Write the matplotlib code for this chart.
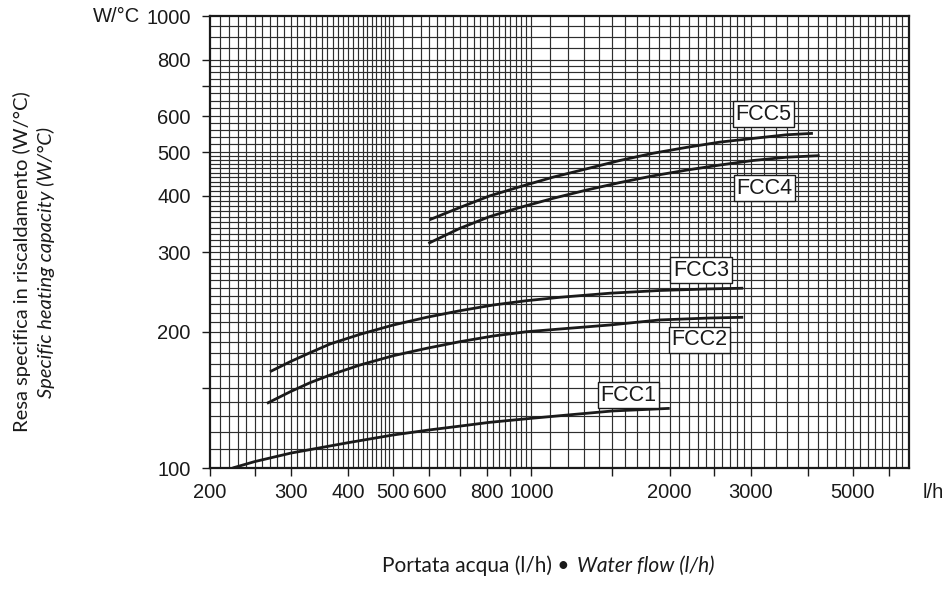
import numpy as np
import matplotlib
matplotlib.use("Agg")
import matplotlib.pyplot as plt
from matplotlib.ticker import FixedLocator, FixedFormatter, NullLocator

plt.rcParams['font.family'] = ['Liberation Sans', 'DejaVu Sans']

# curves: water flow (l/h) -> specific capacity (W/°C)
fcc1_x = [224, 250, 300, 400, 500, 600, 700, 812, 1000, 1200, 1500, 2000]
fcc1_y = [100, 103.3, 107.9, 113.8, 118.3, 121.4, 123.8, 126.2, 128.8, 131, 133.7, 135.5]

fcc2_x = [266, 299, 330, 365, 424, 501, 592, 699, 826, 976, 1154, 1482, 1902, 2438, 2890]
fcc2_y = [139, 147.5, 154.4, 160.6, 169, 177.2, 184, 190.3, 195.9, 200.2, 203, 207.2, 212.6, 214.7, 215.5]

fcc3_x = [270, 299, 330, 365, 424, 501, 592, 699, 826, 976, 1154, 1482, 1902, 2438, 2890]
fcc3_y = [163.3, 171.9, 179.9, 188.1, 197.6, 207.2, 215.5, 222.8, 229.4, 234.5, 238.6, 243.6, 247, 249, 249.9]

fcc4_x = [597, 699, 812, 944, 1115, 1318, 1557, 1840, 2174, 2570, 3036, 3588, 4238]
fcc4_y = [314, 339, 360, 377, 395, 412, 428, 443, 456, 468, 479, 487, 491]

fcc5_x = [600, 699, 812, 944, 1115, 1318, 1557, 1840, 2174, 2570, 3036, 3588, 4097]
fcc5_y = [354, 377, 400, 419, 440, 459, 479, 497, 512, 526, 536, 546, 550]

curve_names = ['FCC1', 'FCC2', 'FCC3', 'FCC4', 'FCC5']
label_x = [1624, 2320, 2340, 3210, 3200]
label_y = [145, 192, 274, 416, 606]

x_ticks = [200, 250, 300, 400, 500, 600, 700, 800, 900, 1000, 1500, 2000, 2500, 3000, 4000, 5000, 6000]
x_labeled = [200, 300, 400, 500, 600, 800, 1000, 2000, 3000, 5000]
y_ticks = [100, 150, 200, 300, 400, 500, 600, 700, 800, 1000]
y_labeled = [100, 200, 300, 400, 500, 600, 800, 1000]

xmin, xmax = 200, 6630
ymin, ymax = 100, 1000

# grid spacing of the printed log paper
x_grid = np.concatenate([np.arange(210, 500, 10), np.arange(500, 1000, 25),
                         np.arange(1000, 3000, 100), np.arange(3000, 6600, 200)])
y_grid = np.concatenate([np.arange(110, 500, 10), np.arange(500, 600, 20),
                         np.arange(600, 800, 25), np.arange(800, 1000, 50)])

fig = plt.figure(figsize=(9.49, 6.06), dpi=100)
ax = fig.add_axes([210 / 949, 1 - 468 / 606, (909 - 210) / 949, (468 - 16) / 606])
ax.set_xscale('log')
ax.set_yscale('log')
ax.set_xlim(xmin, xmax)
ax.set_ylim(ymin, ymax)

for gx in x_grid:
    ax.axvline(gx, color='#2e2e2e', lw=0.85, zorder=1)
for gy in y_grid:
    ax.axhline(gy, color='#2e2e2e', lw=0.85, zorder=1)

curves = [(fcc1_x, fcc1_y), (fcc2_x, fcc2_y), (fcc3_x, fcc3_y), (fcc4_x, fcc4_y), (fcc5_x, fcc5_y)]
for cx, cy in curves:
    ax.plot(cx, cy, color='#1a1a1a', lw=2.0, solid_capstyle='butt', solid_joinstyle='round', zorder=3)

for name, lx, ly in zip(curve_names, label_x, label_y):
    ax.text(lx, ly, name, ha='center', va='center', fontsize=15.5, color='#1a1a1a', zorder=4,
            bbox=dict(boxstyle='square,pad=0.12', fc='white', ec='#1a1a1a', lw=1.0))

ax.xaxis.set_major_locator(FixedLocator(x_ticks))
ax.xaxis.set_major_formatter(FixedFormatter([str(t) if t in x_labeled else '' for t in x_ticks]))
ax.xaxis.set_minor_locator(NullLocator())
ax.yaxis.set_major_locator(FixedLocator(y_ticks))
ax.yaxis.set_major_formatter(FixedFormatter([str(t) if t in y_labeled else '' for t in y_ticks]))
ax.yaxis.set_minor_locator(NullLocator())
ax.tick_params(axis='x', direction='out', length=6, width=1.0, pad=5, labelsize=14.5, colors='#1a1a1a')
ax.tick_params(axis='y', direction='out', length=6, width=1.0, pad=8, labelsize=14.5, colors='#1a1a1a')

for sp in ax.spines.values():
    sp.set_linewidth(1.6)
    sp.set_color('#1a1a1a')

fig.text(117 / 949, 1 - 16 / 606, 'W/°C', ha='center', va='center', fontsize=14.5, color='#1a1a1a')
fig.text(933 / 949, 1 - 492 / 606, 'l/h', ha='center', va='center', fontsize=14.5, color='#1a1a1a')

fig.text(22 / 949, 1 - 262 / 606, 'Resa specifica in riscaldamento (W/°C)', rotation=90,
         ha='center', va='center', fontsize=14.5, family='Lato', color='#1a1a1a')
fig.text(46 / 949, 1 - 262 / 606, 'Specific heating capacity (W/°C)', rotation=90,
         ha='center', va='center', fontsize=14.5, family='Lato', style='italic', color='#1a1a1a')

fig.text(569 / 949, 1 - 566 / 606, 'Portata acqua (l/h) •', ha='right', va='center',
         fontsize=15, family='Lato', color='#1a1a1a')
fig.text(577 / 949, 1 - 566 / 606, 'Water flow (l/h)', ha='left', va='center',
         fontsize=15, family='Lato', style='italic', color='#1a1a1a')

fig.savefig('out.png', dpi=100)
